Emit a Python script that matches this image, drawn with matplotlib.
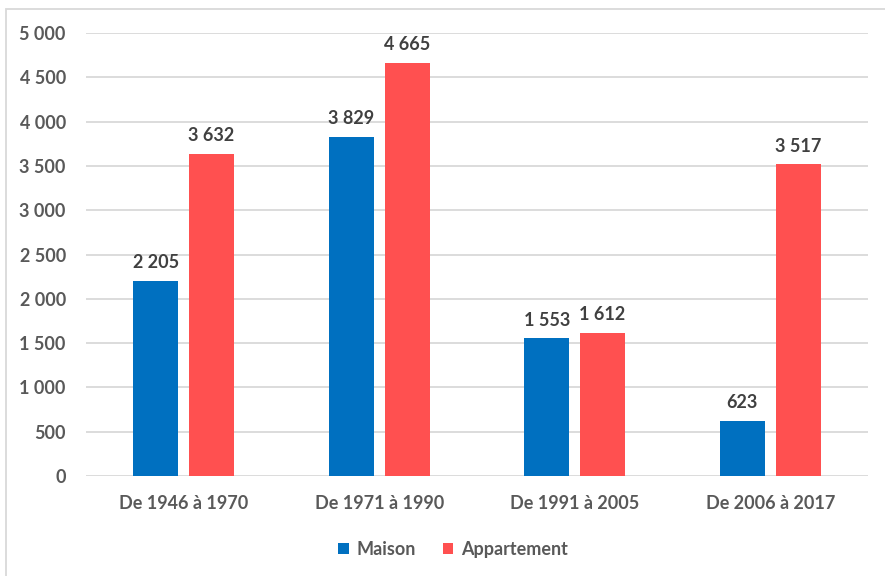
import numpy as np
import matplotlib.pyplot as plt
from matplotlib.patches import Rectangle
from matplotlib.ticker import FuncFormatter

periods = ["De 1946 à 1970", "De 1971 à 1990", "De 1991 à 2005", "De 2006 à 2017"]
maison = [2205, 3829, 1553, 623]
appartement = [3632, 4665, 1612, 3517]

blue = "#0070C0"
red = "#FF5050"
txt = "#595959"

plt.rcParams["font.family"] = ["Lato", "DejaVu Sans"]
plt.rcParams["font.weight"] = "bold"

def fmt(v, pos=None):
    return f"{int(v):,}".replace(",", " ")

fig = plt.figure(figsize=(8.85, 5.76), dpi=100)
W, H = 885, 576
ax = fig.add_axes([86 / W, (H - 476) / H, (868 - 86) / W, (476 - 33) / H])

# outer frame of the chart area
fig.patches.append(Rectangle((5.5 / W, -0.1), 1.1, (H - 8.5) / H + 0.1,
                             transform=fig.transFigure, fill=False,
                             edgecolor="#D9D9D9", linewidth=1.3))

x = np.arange(len(periods))
bw = 0.23
gap = 0.055
off = (bw + gap) / 2
b1 = ax.bar(x - off, maison, bw, color=blue, label="Maison", zorder=3)
b2 = ax.bar(x + off, appartement, bw, color=red, label="Appartement", zorder=3)

fs = 13
for bars, vals in ((b1, maison), (b2, appartement)):
    for r, v in zip(bars, vals):
        ax.text(r.get_x() + r.get_width() / 2, v + 110, fmt(v),
                ha="center", va="bottom", fontsize=fs,
                fontweight="bold", color="#404040")

ax.set_xlim(-0.5, 3.5)
ax.set_ylim(0, 5000)
ax.set_yticks(np.arange(0, 5001, 500))
ax.yaxis.set_major_formatter(FuncFormatter(fmt))
ax.set_xticks(x)
ax.set_xticklabels(periods)
ax.grid(axis="y", color="#D9D9D9", linewidth=1.3, zorder=0)
for s in ax.spines.values():
    s.set_visible(False)
ax.tick_params(length=0, labelsize=fs, colors=txt)
ax.tick_params(axis="y", pad=14.5)
ax.tick_params(axis="x", pad=14)
for lab in ax.get_xticklabels() + ax.get_yticklabels():
    lab.set_fontweight("bold")

ax.legend(loc="upper center", bbox_to_anchor=(0.469, -0.11), ncol=2,
          frameon=False, fontsize=fs, handlelength=0.6, handleheight=0.6,
          handletextpad=0.4, columnspacing=1.5, labelcolor=txt)

fig.savefig("out.png", dpi=100)
